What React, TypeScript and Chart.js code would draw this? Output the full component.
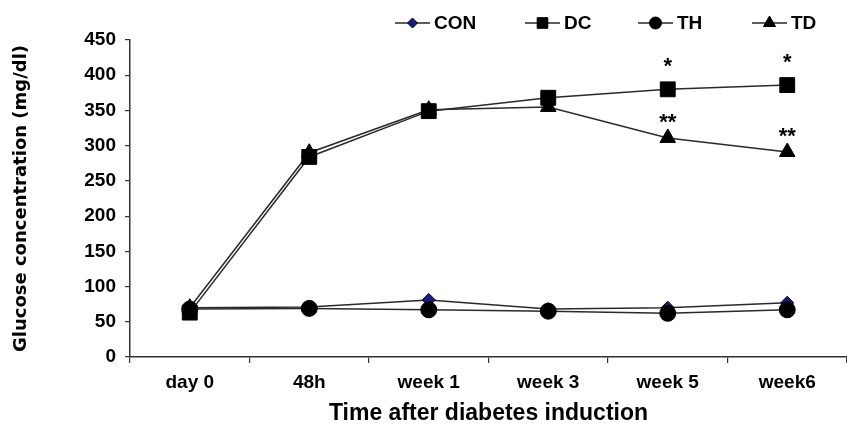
import React, { useEffect, useRef } from 'react';
import { Chart, registerables } from 'chart.js';
import { drawPoint } from 'chart.js/helpers';

Chart.register(...registerables);

const categories = ['day 0', '48h', 'week 1', 'week 3', 'week 5', 'week6'];
const conValues = [70, 71, 81, 68, 70, 77];
const dcValues = [63, 284, 349, 368, 380, 386];
const thValues = [68, 69, 67, 65, 62, 67];
const tdValues = [70, 290, 351, 355, 311, 291];
const dcMarks = ['', '', '', '', '*', '*'];
const tdMarks = ['', '', '', '', '**', '**'];
const seriesNames = ['CON', 'DC', 'TH', 'TD'];
const yMin = 0;
const yMax = 450;
const yStep = 50;

const FONT = '"Liberation Sans", Arial, sans-serif';
const LINE = '#2a2a2a';

const legendStyles = [
  { style: 'rectRot', radius: 5, fill: '#1a1a80', x: 395 },
  { style: 'rect', radius: 7.5, fill: '#000', x: 525 },
  { style: 'circle', radius: 6, fill: '#000', x: 638 },
  { style: 'triangle', radius: 7, fill: '#000', x: 752 },
];

const legendPlugin = {
  id: 'customLegend',
  afterDraw(chart: any) {
    const ctx = chart.ctx;
    const y = 23;
    ctx.save();
    ctx.font = `bold 19px ${FONT}`;
    ctx.textBaseline = 'middle';
    ctx.fillStyle = '#000';
    legendStyles.forEach((s, i) => {
      const x0 = s.x;
      ctx.strokeStyle = LINE;
      ctx.lineWidth = 1.5;
      ctx.beginPath();
      ctx.moveTo(x0, y);
      ctx.lineTo(x0 + 35, y);
      ctx.stroke();
      ctx.fillStyle = s.fill;
      ctx.strokeStyle = '#000';
      ctx.lineWidth = 1;
      drawPoint(ctx, { pointStyle: s.style as any, radius: s.radius, rotation: 0, borderWidth: 1 }, x0 + 17.5, y);
      ctx.fillStyle = '#000';
      ctx.fillText(seriesNames[i], x0 + 39, y + 1);
    });
    ctx.restore();
  },
};

const marksPlugin = {
  id: 'sigMarks',
  afterDatasetsDraw(chart: any) {
    const ctx = chart.ctx;
    const yScale = chart.scales.y;
    const xScale = chart.scales.x;
    ctx.save();
    ctx.font = `bold 22px ${FONT}`;
    ctx.textAlign = 'center';
    ctx.textBaseline = 'alphabetic';
    ctx.fillStyle = '#000';
    dcMarks.forEach((m, i) => {
      if (!m) return;
      const x = xScale.getPixelForValue(i);
      const y = yScale.getPixelForValue(dcValues[i]);
      ctx.fillText(m, x, y - 16);
    });
    tdMarks.forEach((m, i) => {
      if (!m) return;
      const x = xScale.getPixelForValue(i);
      const y = yScale.getPixelForValue(tdValues[i]);
      ctx.fillText(m, x, y - 9);
    });
    ctx.restore();
  },
};

export default function App() {
  const ref = useRef<HTMLCanvasElement | null>(null);
  useEffect(() => {
    if (!ref.current) return;
    const chart = new Chart(ref.current, {
      type: 'line',
      data: {
        labels: categories,
        datasets: [
          {
            label: seriesNames[0],
            data: conValues,
            borderColor: LINE,
            borderWidth: 1.5,
            pointStyle: 'rectRot',
            pointRadius: 6.5,
            pointBackgroundColor: '#1a1a80',
            pointBorderColor: '#000',
            pointBorderWidth: 1,
            order: 3,
          },
          {
            label: seriesNames[1],
            data: dcValues,
            borderColor: LINE,
            borderWidth: 1.5,
            pointStyle: 'rect',
            pointRadius: 10.5,
            pointBackgroundColor: '#000',
            pointBorderColor: '#000',
            pointBorderWidth: 1,
            order: 0,
          },
          {
            label: seriesNames[2],
            data: thValues,
            borderColor: LINE,
            borderWidth: 1.5,
            pointStyle: 'circle',
            pointRadius: 8,
            pointBackgroundColor: '#000',
            pointBorderColor: '#000',
            pointBorderWidth: 1,
            order: 1,
          },
          {
            label: seriesNames[3],
            data: tdValues,
            borderColor: LINE,
            borderWidth: 1.5,
            pointStyle: 'triangle',
            pointRadius: 9,
            pointBackgroundColor: '#000',
            pointBorderColor: '#000',
            pointBorderWidth: 1,
            order: 2,
          },
        ],
      },
      options: {
        responsive: false,
        animation: false,
        layout: { autoPadding: false, padding: { top: 40, right: 0, bottom: 0, left: 0 } },
        plugins: {
          legend: { display: false },
          tooltip: { enabled: false },
        },
        scales: {
          x: {
            type: 'category',
            offset: true,
            grid: {
              display: true,
              drawOnChartArea: false,
              drawTicks: true,
              tickLength: 6,
              color: '#333',
              lineWidth: 1.2,
              offset: true,
            },
            border: { display: true, color: '#333', width: 1.5 },
            ticks: {
              color: '#000',
              font: { family: FONT, size: 19, weight: 'bold' },
              padding: 8,
              maxRotation: 0,
            },
            title: {
              display: true,
              text: 'Time after diabetes induction',
              color: '#000',
              font: { family: FONT, size: 23, weight: 'bold' },
              padding: { top: 0, bottom: 3 },
            },
            afterFit(scale: any) {
              scale.height = 73;
            },
          },
          y: {
            min: yMin,
            max: yMax,
            ticks: {
              stepSize: yStep,
              color: '#000',
              font: { family: FONT, size: 19, weight: 'bold' },
              padding: 9,
            },
            grid: {
              display: true,
              drawOnChartArea: false,
              drawTicks: true,
              tickLength: 5,
              color: '#333',
              lineWidth: 1.2,
            },
            border: { display: true, color: '#333', width: 1.5 },
            title: {
              display: true,
              text: 'Glucose concentration (mg/dl)',
              color: '#000',
              font: { family: '"DejaVu Sans", Verdana, sans-serif', size: 18, weight: 'bold' },
              padding: { top: 11, bottom: 0 },
            },
            afterFit(scale: any) {
              scale.width = 130;
            },
          },
        },
      },
      plugins: [legendPlugin, marksPlugin],
    });
    return () => chart.destroy();
  }, []);
  return (
    <div style={{ position: 'absolute', left: 0, top: 0, width: 847, height: 430, background: '#fff' }}>
      <canvas ref={ref} width={847} height={430} style={{ display: 'block' }} />
    </div>
  );
}
